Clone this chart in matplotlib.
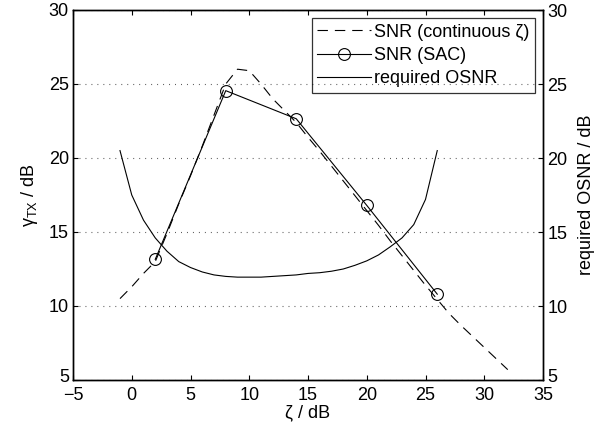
import matplotlib
matplotlib.use("Agg")
import matplotlib.pyplot as plt
import matplotlib.transforms as mtransforms

plt.rcParams['font.family'] = ['Liberation Sans', 'DejaVu Sans']
plt.rcParams['font.size'] = 13
plt.rcParams['mathtext.fontset'] = 'custom'
plt.rcParams['mathtext.rm'] = 'Liberation Sans'
plt.rcParams['mathtext.it'] = 'Liberation Sans'
plt.rcParams['mathtext.sf'] = 'Liberation Sans'
plt.rcParams['lines.scale_dashes'] = False

# continuous-zeta SNR (dashed)
zeta_cont = [-1, 0, 1, 2, 3, 4, 5, 6, 7, 8, 9, 10, 11, 12, 13, 14, 15, 16,
             17, 18, 19, 20, 21, 22, 23, 24, 25, 26, 27, 28, 29, 30, 31, 32]
snr_cont = [10.5, 11.3, 12.2, 13.0, 14.9, 16.9, 18.8, 20.8, 22.9, 25.0, 26.0,
            25.9, 25.0, 24.0, 23.2, 22.4, 21.4, 20.45, 19.45, 18.45, 17.45,
            16.45, 15.45, 14.4, 13.4, 12.4, 11.4, 10.45, 9.5, 8.7, 7.95, 7.2,
            6.45, 5.7]

# SAC SNR (circles)
zeta_sac = [2, 8, 14, 20, 26]
snr_sac = [13.15, 24.55, 22.65, 16.8, 10.8]

# required OSNR (solid)
zeta_req = [-1, 0, 1, 2, 3, 4, 5, 6, 7, 8, 9, 10, 11, 12, 13, 14, 15, 16, 17,
            18, 19, 20, 21, 22, 23, 24, 25, 26]
osnr_req = [20.5, 17.5, 15.8, 14.6, 13.7, 13.0, 12.6, 12.3, 12.1, 12.0, 11.95,
            11.95, 11.95, 12.0, 12.05, 12.1, 12.2, 12.25, 12.35, 12.5, 12.75,
            13.05, 13.45, 14.0, 14.6, 15.5, 17.2, 20.5]

xticks = [-5, 0, 5, 10, 15, 20, 25, 30, 35]
yticks = [5, 10, 15, 20, 25, 30]

fig = plt.figure(figsize=(6.07, 4.32), dpi=100)
ax = fig.add_axes([73/607, 1-380/432, (543-73)/607, (380-10)/432])

lw = 0.8
ax.plot(zeta_cont, snr_cont, color='black', lw=lw, linestyle=(0, (7.5, 5.0)),
        label='SNR (continuous ζ)')
ax.plot(zeta_sac, snr_sac, color='black', lw=lw, marker='o', markersize=8.5,
        markerfacecolor='none', markeredgewidth=lw, label='SNR (SAC)')
ax.plot(zeta_req, osnr_req, color='black', lw=lw, label='required OSNR')

ax.set_xlim(-5, 35)
ax.set_ylim(5, 30)
ax.set_xticks(xticks)
ax.set_yticks(yticks)
ax.yaxis.grid(True, linestyle=(0, (0.7, 3.6)), color='0.35', linewidth=0.8)
ax.tick_params(direction='in', length=3.5, width=0.8, top=True, right=False)
ax.tick_params(axis='x', pad=5)
ax.tick_params(axis='y', pad=3)
for s in ax.spines.values():
    s.set_linewidth(1.0)

ax.set_xlabel('ζ / dB', labelpad=0.5)
ax.set_ylabel(r'$\mathrm{γ}_{\mathrm{TX}}$ / dB', labelpad=6)

ax2 = ax.twinx()
ax2.set_ylim(5, 30)
ax2.set_yticks(yticks)
ax2.tick_params(direction='in', length=3.5, width=0.8, pad=3)
ax2.set_ylabel('required OSNR / dB', labelpad=8)
for s in ax2.spines.values():
    s.set_linewidth(1.0)

# nudge the lowest y tick labels up a little so they clear the x labels
shift = mtransforms.ScaledTranslation(0, 3.5 / 72, fig.dpi_scale_trans)
for a in (ax, ax2):
    t = a.yaxis.get_major_ticks()[0]
    t.label1.set_transform(t.label1.get_transform() + shift)
    t.label2.set_transform(t.label2.get_transform() + shift)

leg = ax.legend(loc='upper right', handlelength=3.0, handletextpad=0.15,
                borderaxespad=0.45, borderpad=0.3, labelspacing=0.35,
                fancybox=False, frameon=True)
leg.get_frame().set_edgecolor('black')
leg.get_frame().set_facecolor('none')
leg.get_frame().set_linewidth(0.9)

fig.savefig('out.png', dpi=100)
